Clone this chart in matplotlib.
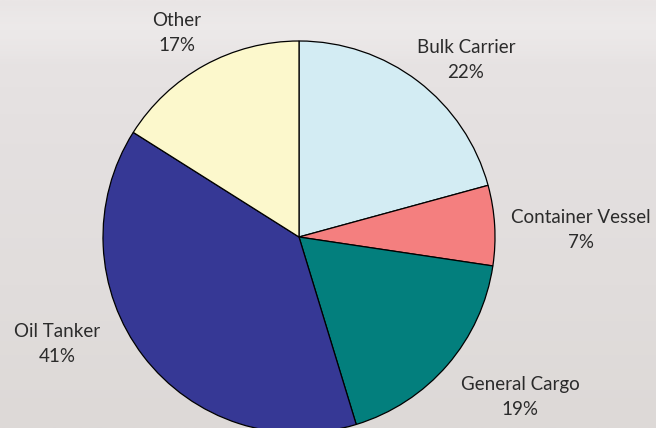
import numpy as np
import matplotlib.pyplot as plt
from matplotlib.colors import LinearSegmentedColormap

# ship types and their shares (labels as printed; pie normalises them)
categories = ['Bulk Carrier', 'Container Vessel', 'General Cargo', 'Oil Tanker', 'Other']
shares = [22, 7, 19, 41, 17]
colors = ['#d3ecf3', '#f47f7f', '#037f7d', '#363895', '#fcf8cc']

# label anchor points in pixel coordinates (x, y from top)
label_pos = [(466, 60), (581, 230), (520, 397), (57, 344), (177, 33)]

W, H = 656, 428
fig = plt.figure(figsize=(W / 100, H / 100), dpi=100)

# photo-like washed-out background
bg = fig.add_axes([0, 0, 1, 1])
bg.set_axis_off()
grad = np.linspace(0, 1, 200).reshape(-1, 1)
cmap = LinearSegmentedColormap.from_list(
    'bg', ['#e9e5e5', '#e4e0e0', '#e1dddc', '#ddd9d7'])
bg.imshow(grad, aspect='auto', cmap=cmap, extent=[0, 1, 0, 1], origin='upper')
# soft lighter streak near the top
streak = np.exp(-((np.linspace(0, 1, 200) - 0.07) / 0.06) ** 2).reshape(-1, 1)
bg.imshow(np.ones((200, 1)), aspect='auto', cmap='Greys_r', vmin=0, vmax=1,
          alpha=streak * 0.2, extent=[0, 1, 0, 1], origin='upper')
bg.set_xlim(0, 1)
bg.set_ylim(0, 1)

ax = fig.add_axes([0, 0, 1, 1])
ax.patch.set_alpha(0)
ax.pie(shares, colors=colors, startangle=90, counterclock=False,
       center=(299, H - 237), radius=196,
       wedgeprops=dict(edgecolor='black', linewidth=0.9))
ax.set_xlim(0, W)
ax.set_ylim(0, H)
ax.set_aspect('equal')
ax.set_axis_off()

for name, v, (px, py) in zip(categories, shares, label_pos):
    ax.text(px, H - py, f'{name}\n{v}%', ha='center', va='center',
            fontsize=13.5, family='Lato', color='#2b2b2b', linespacing=1.6)

fig.savefig('out.png', dpi=100)
